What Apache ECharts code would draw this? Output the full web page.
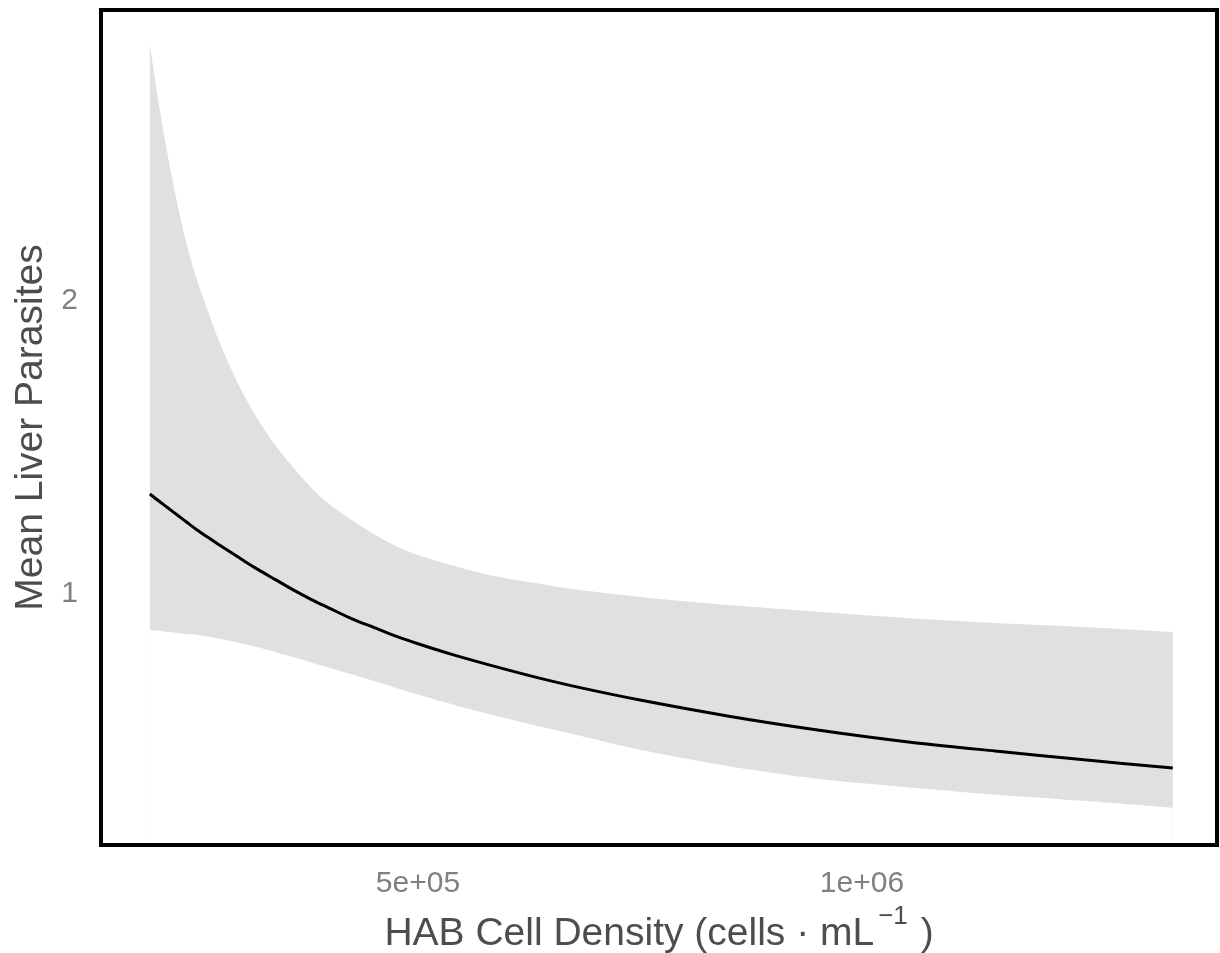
<!DOCTYPE html>
<html>
<head>
<meta charset="UTF-8">
<title>Mean Liver Parasites vs HAB Cell Density</title>
<script type="text/javascript" src="https://cdn.jsdelivr.net/npm/echarts@6/dist/echarts.min.js"></script>
<style>
	html, body { margin: 0; padding: 0; background: #fff; }
	#chart { width: 1220px; height: 953px; }
</style>
</head>
<body>
<div id="chart"></div>
<script type="text/javascript">
// HAB cell density (cells per mL)
var density = [198000, 210000, 220000, 230000, 240000, 250000, 262500, 275000, 290000, 305000,
	320000, 340000, 360000, 380000, 400000, 425000, 450000, 475000, 500000, 540000,
	580000, 630000, 680000, 750000, 850000, 950000, 1050000, 1150000, 1250000, 1350000];
// fitted mean
var fitMean = [1.341, 1.313, 1.290, 1.267, 1.244, 1.221, 1.195, 1.170, 1.141, 1.111,
	1.083, 1.048, 1.013, 0.981, 0.952, 0.916, 0.886, 0.856, 0.830, 0.792,
	0.758, 0.718, 0.682, 0.638, 0.583, 0.536, 0.496, 0.464, 0.434, 0.406];
// confidence band
var ciUpper = [2.874, 2.638, 2.468, 2.317, 2.188, 2.082, 1.973, 1.870, 1.765, 1.672,
	1.594, 1.505, 1.430, 1.362, 1.307, 1.253, 1.205, 1.164, 1.133, 1.096,
	1.065, 1.038, 1.014, 0.990, 0.962, 0.939, 0.918, 0.901, 0.887, 0.870];
var ciLower = [0.877, 0.874, 0.870, 0.867, 0.863, 0.861, 0.855, 0.848, 0.839, 0.829,
	0.818, 0.801, 0.784, 0.766, 0.748, 0.726, 0.703, 0.680, 0.657, 0.622,
	0.590, 0.553, 0.518, 0.468, 0.412, 0.369, 0.340, 0.315, 0.294, 0.270];

// tick labels
var xTickValues = [500000, 1000000];
var xTickLabels = ['5e+05', '1e+06'];
var yTickValues = [1, 2];
var yTickLabels = ['1', '2'];

document.addEventListener("DOMContentLoaded", function(){
	var chart = echarts.init(document.getElementById("chart"));

	var fitData = [], upperData = [], lowerData = [];
	for (var i = 0; i < density.length; i++) {
		fitData.push([density[i], fitMean[i]]);
		upperData.push([density[i], ciUpper[i]]);
		lowerData.push([density[i], ciLower[i]]);
	}

	var option = {
		animation: false,
		backgroundColor: '#fff',
		textStyle: { fontFamily: 'Liberation Sans, Arial, sans-serif' },
		grid: {
			left: 101, right: 3, top: 10, bottom: 108, z: 10,
			outerBoundsMode: 'none',
			show: true, borderColor: '#000', borderWidth: 4, backgroundColor: 'transparent'
		},
		xAxis: {
			type: 'value',
			min: 143018, max: 1399775,
			axisLine: { show: false },
			axisTick: { show: false },
			splitLine: { show: false },
			axisLabel: {
				customValues: xTickValues,
				color: '#808080', fontSize: 30, margin: 24,
				formatter: function(v){ return xTickLabels[xTickValues.indexOf(v)]; }
			},
			name: '{t|HAB Cell Density (cells · mL}{sup|−1}{t| )}',
			nameLocation: 'middle',
			nameGap: 55,
			nameTextStyle: {
				color: '#4d4d4d', fontSize: 39,
				rich: {
					t: { fontSize: 39, color: '#4d4d4d', verticalAlign: 'bottom', lineHeight: 44 },
					sup: { fontSize: 26, color: '#4d4d4d', verticalAlign: 'bottom', lineHeight: 26, padding: [0, 2, 24, 4] }
				}
			}
		},
		yAxis: {
			type: 'value',
			min: 0.1433, max: 2.993,
			axisLine: { show: false },
			axisTick: { show: false },
			splitLine: { show: false },
			axisLabel: {
				customValues: yTickValues,
				color: '#808080', fontSize: 30, margin: 23,
				formatter: function(v){ return yTickLabels[yTickValues.indexOf(v)]; }
			},
			name: 'Mean Liver Parasites',
			nameLocation: 'middle',
			nameGap: 49,
			nameTextStyle: { color: '#4d4d4d', fontSize: 39 }
		},
		series: [
			// ribbon: grey area under the upper edge, then white under the lower edge
			{
				name: 'upper', type: 'line', data: upperData, z: 1,
				symbol: 'none', smooth: 0.3, silent: true,
				lineStyle: { width: 0, opacity: 0 },
				areaStyle: { color: '#e0e0e0', opacity: 1, origin: 'start' }
			},
			{
				name: 'lower', type: 'line', data: lowerData, z: 2,
				symbol: 'none', smooth: 0.3, silent: true,
				lineStyle: { width: 0, opacity: 0 },
				areaStyle: { color: '#ffffff', opacity: 1, origin: 'start' }
			},
			{
				name: 'fit', type: 'line', data: fitData, z: 3,
				symbol: 'none', smooth: 0.3,
				lineStyle: { color: '#000', width: 3 }
			}
		]
	};

	chart.setOption(option, true);
});
</script>
</body>
</html>
